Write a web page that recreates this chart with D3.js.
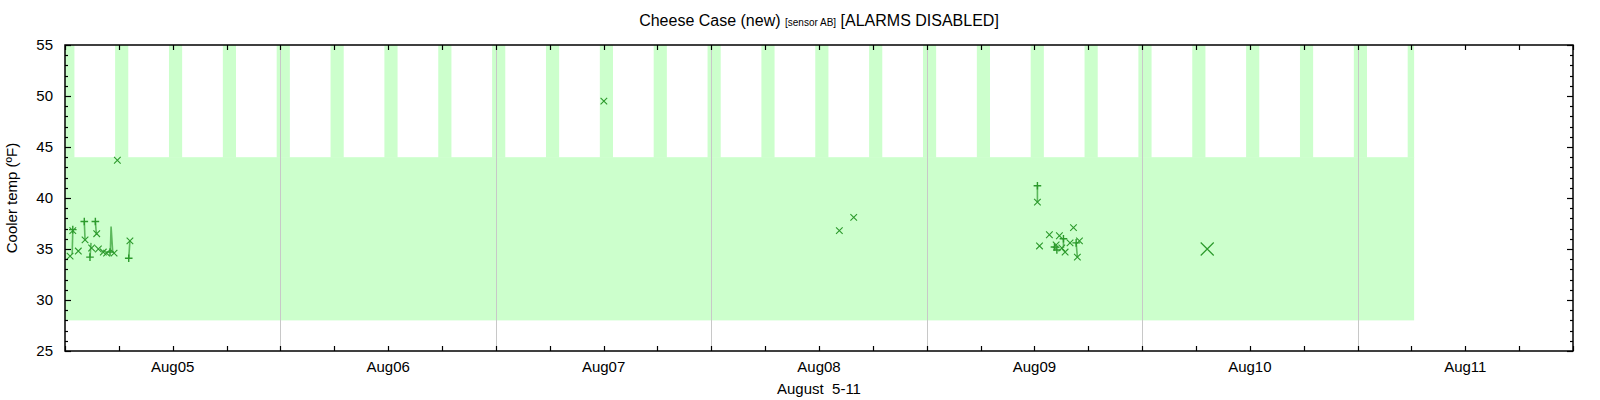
<!DOCTYPE html>
<html>
<head>
<meta charset="utf-8">
<script src="https://cdn.jsdelivr.net/npm/d3@7"></script>
<style>
  body { margin: 0; background: #fff; }
  text { font-family: "Liberation Sans", Arial, sans-serif; fill: #000; }
</style>
</head>
<body>
<div id="chart"></div>
<script>
// readings, times as "mm-dd HH:MM" (UTC, year ignored)
const crossTimes = ["08-05 00:34","08-05 00:52","08-05 01:29","08-05 02:14","08-05 02:58","08-05 03:32",
  "08-05 03:43","08-05 04:16","08-05 04:38","08-05 05:28","08-05 05:50","08-05 07:14",
  "08-07 12:02","08-08 14:16","08-08 15:52",
  "08-09 12:20","08-09 12:34","08-09 13:40","08-09 14:25","08-09 14:47","08-09 15:03",
  "08-09 15:25","08-09 15:58","08-09 16:21","08-09 16:47","08-09 17:01"];
const crossTemps = [34.3,36.8,34.8,35.9,35.1,36.5,
  35.0,34.7,34.6,34.6,43.7,35.8,
  49.5,36.8,38.1,
  39.6,35.3,36.4,35.4,36.3,35.1,
  34.7,35.6,37.1,34.2,35.8];

const plusTimes = ["08-05 00:52","08-05 02:09","08-05 02:47","08-05 03:23","08-05 05:01","08-05 07:06",
  "08-09 12:20","08-09 14:14","08-09 14:30","08-09 15:14","08-09 16:39"];
const plusTemps = [36.9,37.7,34.2,37.7,34.7,34.1,
  41.2,35.2,34.9,36.0,35.6];

// short connected runs
const traces = [
  [["08-05 00:52",36.8],["08-05 00:48",34.5]],
  [["08-05 02:09",37.7],["08-05 02:14",35.9]],
  [["08-05 02:47",34.2],["08-05 02:54",35.6]],
  [["08-05 03:23",37.7],["08-05 03:30",36.4]],
  [["08-05 05:03",34.8],["08-05 05:08",37.2],["08-05 05:19",34.7]],
  [["08-05 07:06",34.1],["08-05 07:14",35.8]],
  [["08-09 12:20",41.2],["08-09 12:20",39.6]],
  [["08-09 14:14",35.2],["08-09 14:30",34.9]],
  [["08-09 15:14",36.0],["08-09 15:14",35.1]],
  [["08-09 16:39",35.6],["08-09 16:47",34.2]]
];

// latest reading (big marker)
const lastTime = "08-10 07:15";
const lastTemp = 35.0;

// alarm band
const bandStart = "08-05 00:00";
const bandEnd = "08-11 06:18";
const bandLow = 28;
const bandHigh = 44;
const defrostHigh = 55;
const defrostBefore = 25;  // minutes
const defrostAfter = 63;
const defrostTimes = ["08-05 00:00","08-05 06:00","08-05 12:00","08-05 18:00",
  "08-06 00:00","08-06 06:00","08-06 12:00","08-06 18:00",
  "08-07 00:00","08-07 06:00","08-07 12:00","08-07 18:00",
  "08-08 00:00","08-08 06:00","08-08 12:00","08-08 18:00",
  "08-09 00:00","08-09 06:00","08-09 12:00","08-09 18:00",
  "08-10 00:00","08-10 06:00","08-10 12:00","08-10 18:00",
  "08-11 00:00","08-11 06:00"];

const xStart = "08-05 00:00";
const xEnd = "08-12 00:00";
const yMin = 25, yMax = 55;

const parse = d3.utcParse("%m-%d %H:%M");

const width = 1600;
const height = 400;
const margin = { top: 45, right: 27, bottom: 49, left: 65 };
const green = '#2c9a2c';

const svg = d3.select('#chart')
  .append('svg')
  .attr('width', width)
  .attr('height', height);

const x = d3.scaleUtc()
  .domain([parse(xStart), parse(xEnd)])
  .range([margin.left, width - margin.right]);

const y = d3.scaleLinear()
  .domain([yMin, yMax])
  .range([height - margin.bottom, margin.top]);

svg.append('clipPath').attr('id', 'plot')
  .append('rect')
  .attr('x', margin.left).attr('y', margin.top)
  .attr('width', width - margin.left - margin.right)
  .attr('height', height - margin.top - margin.bottom);

const plot = svg.append('g').attr('clip-path', 'url(#plot)');

// band
const b0 = parse(bandStart), b1 = parse(bandEnd);
plot.append('rect')
  .attr('x', x(b0))
  .attr('y', y(bandHigh))
  .attr('width', x(b1) - x(b0))
  .attr('height', y(bandLow) - y(bandHigh))
  .attr('fill', '#ccffcc');

plot.append('g')
  .selectAll('rect')
  .data(defrostTimes)
  .join('rect')
    .attr('x', d => x(Math.max(+b0, +d3.utcMinute.offset(parse(d), -defrostBefore))))
    .attr('y', y(defrostHigh))
    .attr('width', d => {
      const s = Math.max(+b0, +d3.utcMinute.offset(parse(d), -defrostBefore));
      const e = Math.min(+b1, +d3.utcMinute.offset(parse(d), defrostAfter));
      return Math.max(0, x(e) - x(s));
    })
    .attr('height', y(bandHigh) - y(defrostHigh) + 0.5)
    .attr('fill', '#ccffcc');

// day boundaries
plot.append('g')
  .selectAll('line')
  .data(d3.utcDay.range(d3.utcDay.offset(parse(xStart), 1), parse(xEnd)))
  .join('line')
    .attr('x1', d => Math.round(x(d)) + 0.5)
    .attr('x2', d => Math.round(x(d)) + 0.5)
    .attr('y1', margin.top)
    .attr('y2', height - margin.bottom)
    .attr('stroke', '#c8c8c8')
    .attr('stroke-width', 1);

// traces
const line = d3.line()
  .x(d => x(parse(d[0])))
  .y(d => y(d[1]));

plot.append('g')
  .selectAll('path')
  .data(traces)
  .join('path')
    .attr('d', line)
    .attr('fill', 'none')
    .attr('stroke', green)
    .attr('stroke-opacity', 0.7)
    .attr('stroke-width', 1.6);

function cross(s) { return `M${-s},${-s}L${s},${s}M${-s},${s}L${s},${-s}`; }
function plus(s) { return `M${-s},0L${s},0M0,${-s}L0,${s}`; }

plot.append('g')
  .selectAll('path')
  .data(crossTimes.map((t, i) => [t, crossTemps[i]]))
  .join('path')
    .attr('transform', d => `translate(${x(parse(d[0]))},${y(d[1])})`)
    .attr('d', cross(3.3))
    .attr('stroke', green)
    .attr('stroke-width', 1.1)
    .attr('fill', 'none');

plot.append('g')
  .selectAll('path')
  .data(plusTimes.map((t, i) => [t, plusTemps[i]]))
  .join('path')
    .attr('transform', d => `translate(${x(parse(d[0]))},${y(d[1])})`)
    .attr('d', plus(3.8))
    .attr('stroke', green)
    .attr('stroke-width', 1.4)
    .attr('fill', 'none');

plot.append('path')
  .attr('transform', `translate(${x(parse(lastTime))},${y(lastTemp)})`)
  .attr('d', cross(6.5))
  .attr('stroke', green)
  .attr('stroke-width', 1.2)
  .attr('fill', 'none');

// frame and ticks
const x6h = d3.utcHour.every(6).range(parse(xStart), d3.utcHour.offset(parse(xEnd), 1));
const gt = svg.append('g').attr('stroke', '#000').attr('stroke-width', 1.2);
x6h.forEach(t => {
  const px = Math.round(x(t)) + 0.5;
  gt.append('line').attr('x1', px).attr('x2', px)
    .attr('y1', height - margin.bottom).attr('y2', height - margin.bottom - 5);
  gt.append('line').attr('x1', px).attr('x2', px)
    .attr('y1', margin.top).attr('y2', margin.top + 5);
});
d3.range(yMin, yMax + 1).forEach(v => {
  const len = v % 5 === 0 ? 6 : 3;
  const py = Math.round(y(v)) + 0.5;
  gt.append('line').attr('x1', margin.left).attr('x2', margin.left + len)
    .attr('y1', py).attr('y2', py);
  gt.append('line').attr('x1', width - margin.right).attr('x2', width - margin.right - len)
    .attr('y1', py).attr('y2', py);
});

svg.append('rect')
  .attr('x', margin.left).attr('y', margin.top)
  .attr('width', width - margin.left - margin.right)
  .attr('height', height - margin.top - margin.bottom)
  .attr('fill', 'none')
  .attr('stroke', '#000')
  .attr('stroke-width', 1.5);

// tick labels
svg.append('g')
  .selectAll('text')
  .data(d3.utcDay.range(parse(xStart), parse(xEnd)).map(d => d3.utcHour.offset(d, 12)))
  .join('text')
    .attr('x', d => x(d))
    .attr('y', height - margin.bottom + 21)
    .attr('text-anchor', 'middle')
    .attr('font-size', 15)
    .text(d3.utcFormat('%b%d'));

svg.append('g')
  .selectAll('text')
  .data(d3.range(yMin, yMax + 1, 5))
  .join('text')
    .attr('x', margin.left - 12)
    .attr('y', d => y(d))
    .attr('dy', '0.35em')
    .attr('text-anchor', 'end')
    .attr('font-size', 15)
    .text(d => d);

// titles
const title = svg.append('text')
  .attr('x', (margin.left + width - margin.right) / 2)
  .attr('y', 26)
  .attr('text-anchor', 'middle')
  .attr('font-size', 16);
title.append('tspan').text('Cheese Case (new) ');
title.append('tspan').attr('font-size', 10).text('[sensor AB]');
title.append('tspan').text(' [ALARMS DISABLED]');

svg.append('text')
  .attr('x', (margin.left + width - margin.right) / 2)
  .attr('y', height - 6)
  .attr('text-anchor', 'middle')
  .attr('font-size', 15)
  .attr('xml:space', 'preserve')
  .style('white-space', 'pre')
  .text('August  5-11');

svg.append('text')
  .attr('transform', `translate(17,${(margin.top + height - margin.bottom) / 2}) rotate(-90)`)
  .attr('text-anchor', 'middle')
  .attr('font-size', 15)
  .text('Cooler temp (ºF)');
</script>
</body>
</html>
